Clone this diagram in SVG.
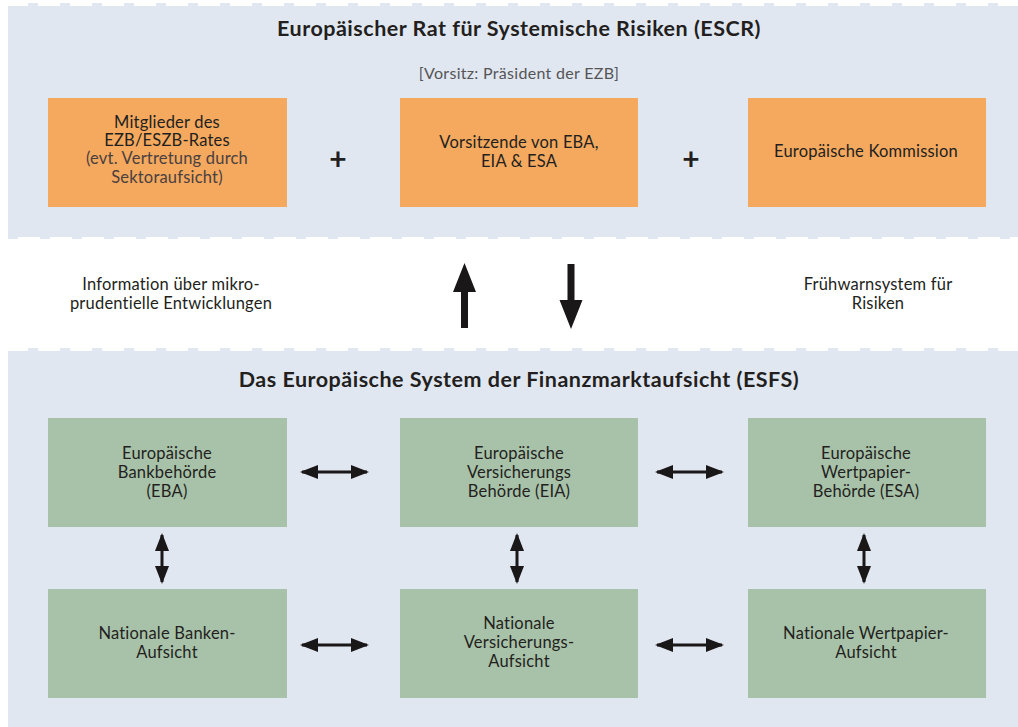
<svg xmlns="http://www.w3.org/2000/svg" width="1018" height="727" viewBox="0 0 1018 727">
  <style>
    text { font-family: Lato, "Open Sans", "Liberation Sans", sans-serif; fill: #231f20; text-anchor: middle; }
    .title { font-size: 21.5px; font-weight: bold; letter-spacing: 0.5px; }
    .lbl { font-size: 16.5px; letter-spacing: 0.2px; }
    .sub { font-size: 16.5px; letter-spacing: 0.2px; fill: #4a4040; }
    .note { font-size: 16px; letter-spacing: 0.3px; fill: #555555; }
    .plus { font-size: 30px; font-weight: bold; }
    .panel { fill: #e1e7f1; }
    .orange { fill: #f4a95f; }
    .green { fill: #a8c2a9; }
    .conn { stroke: #1a1718; stroke-width: 3; fill: none; }
    .head { fill: #1a1718; }
  </style>
  <defs>
    <marker id="tip" viewBox="0 0 18 14" refX="16" refY="7" markerWidth="18" markerHeight="14" markerUnits="userSpaceOnUse" orient="auto-start-reverse">
      <path d="M0,0 L18,7 L0,14 Z" class="head"/>
    </marker>
    <pattern id="dashTop" x="28" y="0" width="32" height="4" patternUnits="userSpaceOnUse">
      <rect x="0" y="0" width="10" height="4" class="panel"/>
    </pattern>
    <pattern id="dashBot" x="8" y="0" width="32" height="4" patternUnits="userSpaceOnUse">
      <rect x="0" y="0" width="10" height="4" class="panel"/>
    </pattern>
  </defs>

  <rect width="1018" height="727" fill="#ffffff"/>

  <!-- upper panel: ESCR -->
  <g id="panel-escr">
    <rect x="8" y="6" width="1010" height="231" class="panel"/>
    <rect x="8" y="3" width="1010" height="3" fill="url(#dashTop)"/>
    <rect x="8" y="237" width="1010" height="2" fill="url(#dashBot)"/>
    <text class="title" x="519" y="36">Europäischer Rat für Systemische Risiken (ESCR)</text>
    <text class="note" x="519" y="79">[Vorsitz: Präsident der EZB]</text>
  </g>

  <!-- lower panel: ESFS -->
  <g id="panel-esfs">
    <rect x="8" y="351" width="1010" height="376" class="panel"/>
    <rect x="8" y="348" width="1010" height="3" fill="url(#dashTop)"/>
    <text class="title" x="519" y="387">Das Europäische System der Finanzmarktaufsicht (ESFS)</text>
  </g>

  <!-- ESCR members -->
  <g id="node-ezb">
    <rect x="48" y="98" width="239" height="109" class="orange"/>
    <text class="lbl" x="167" y="128">Mitglieder des</text>
    <text class="lbl" x="167" y="146">EZB/ESZB-Rates</text>
    <text class="sub" x="167" y="164">(evt. Vertretung durch</text>
    <text class="sub" x="167" y="183">Sektoraufsicht)</text>
  </g>
  <g id="plus-1"><text class="plus" x="338" y="170">+</text></g>
  <g id="node-vorsitzende">
    <rect x="400" y="98" width="238" height="109" class="orange"/>
    <text class="lbl" x="519" y="148">Vorsitzende von EBA,</text>
    <text class="lbl" x="519" y="167">EIA &amp; ESA</text>
  </g>
  <g id="plus-2"><text class="plus" x="691" y="170">+</text></g>
  <g id="node-kommission">
    <rect x="748" y="98" width="238" height="109" class="orange"/>
    <text class="lbl" x="866" y="157">Europäische Kommission</text>
  </g>

  <!-- flow labels between the panels -->
  <g id="label-info">
    <text class="lbl" x="171" y="290">Information über mikro-</text>
    <text class="lbl" x="171" y="309">prudentielle Entwicklungen</text>
  </g>
  <g id="label-warn">
    <text class="lbl" x="878" y="290">Frühwarnsystem für</text>
    <text class="lbl" x="878" y="309">Risiken</text>
  </g>

  <!-- ESFS authorities -->
  <g id="node-eba">
    <rect x="48" y="418" width="239" height="109" class="green"/>
    <text class="lbl" x="167" y="459">Europäische</text>
    <text class="lbl" x="167" y="478">Bankbehörde</text>
    <text class="lbl" x="167" y="497">(EBA)</text>
  </g>
  <g id="node-eia">
    <rect x="400" y="418" width="238" height="109" class="green"/>
    <text class="lbl" x="519" y="459">Europäische</text>
    <text class="lbl" x="519" y="478">Versicherungs</text>
    <text class="lbl" x="519" y="497">Behörde (EIA)</text>
  </g>
  <g id="node-esa">
    <rect x="748" y="418" width="238" height="109" class="green"/>
    <text class="lbl" x="866" y="459">Europäische</text>
    <text class="lbl" x="866" y="478">Wertpapier-</text>
    <text class="lbl" x="866" y="497">Behörde (ESA)</text>
  </g>
  <g id="node-nat-banken">
    <rect x="48" y="589" width="239" height="109" class="green"/>
    <text class="lbl" x="167" y="639">Nationale Banken-</text>
    <text class="lbl" x="167" y="658">Aufsicht</text>
  </g>
  <g id="node-nat-versicherung">
    <rect x="400" y="589" width="238" height="109" class="green"/>
    <text class="lbl" x="519" y="629">Nationale</text>
    <text class="lbl" x="519" y="648">Versicherungs-</text>
    <text class="lbl" x="519" y="667">Aufsicht</text>
  </g>
  <g id="node-nat-wertpapier">
    <rect x="748" y="589" width="238" height="109" class="green"/>
    <text class="lbl" x="866" y="639">Nationale Wertpapier-</text>
    <text class="lbl" x="866" y="658">Aufsicht</text>
  </g>

  <!-- connectors -->
  <g id="connectors">
    <!-- large arrows between ESFS and ESCR -->
    <path class="head" d="M461,328 L461,292 L453,292 L464.5,263 L476,292 L468,292 L468,328 Z"/>
    <path class="head" d="M567.5,264 L567.5,300 L559.5,300 L571,329 L582.5,300 L574.5,300 L574.5,264 Z"/>
    <!-- horizontal links -->
    <line class="conn" x1="302" y1="472" x2="367" y2="472" marker-start="url(#tip)" marker-end="url(#tip)"/>
    <line class="conn" x1="657" y1="472" x2="722" y2="472" marker-start="url(#tip)" marker-end="url(#tip)"/>
    <line class="conn" x1="302" y1="645" x2="367" y2="645" marker-start="url(#tip)" marker-end="url(#tip)"/>
    <line class="conn" x1="657" y1="645" x2="722" y2="645" marker-start="url(#tip)" marker-end="url(#tip)"/>
    <!-- vertical links -->
    <line class="conn" x1="162" y1="535" x2="162" y2="582" marker-start="url(#tip)" marker-end="url(#tip)"/>
    <line class="conn" x1="517" y1="535" x2="517" y2="582" marker-start="url(#tip)" marker-end="url(#tip)"/>
    <line class="conn" x1="864" y1="535" x2="864" y2="582" marker-start="url(#tip)" marker-end="url(#tip)"/>
  </g>
</svg>
